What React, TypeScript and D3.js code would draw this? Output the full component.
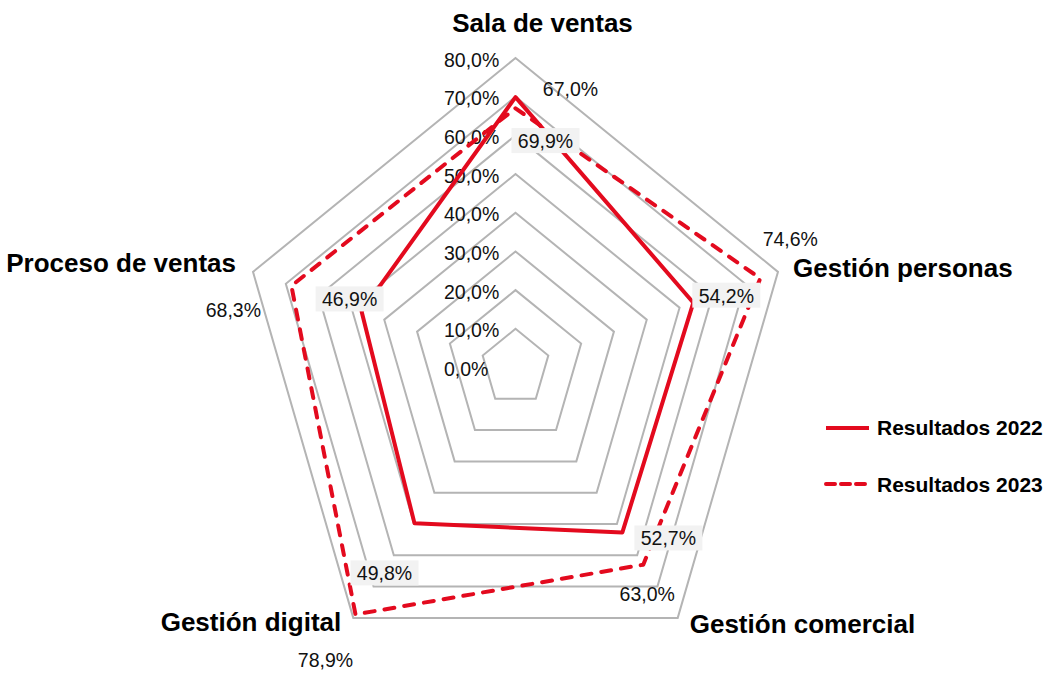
import * as d3 from "d3";
import React from "react";

// categories and series values (fractions)
const categories = ["Sala de ventas", "Gestión personas", "Gestión comercial", "Gestión digital", "Proceso de ventas"];
const values2022 = [0.699, 0.542, 0.527, 0.498, 0.469];
const values2023 = [0.67, 0.746, 0.63, 0.789, 0.683];
const seriesNames = ["Resultados 2022", "Resultados 2023"];
const ticks = [0, 0.1, 0.2, 0.3, 0.4, 0.5, 0.6, 0.7, 0.8];

const RED = "#e30a1e";
const GRID = "#b4b4b4";
const FONT = "'Liberation Sans', Arial, sans-serif";

// label nudges (center x / baseline), relative to each point
const off2022 = [[30, 51], [33, 0], [46, 13], [-30, 57], [-12, -5]];
const off2023 = [[55, -12], [30, -32], [4, 36], [-30, 53], [-58, 31]];
// category title nudges relative to outer vertex
const catOff: [number, number, string][] = [
  [27, -26, "middle"],
  [15, 5, "start"],
  [12, 15, "start"],
  [-12, 13, "end"],
  [-17, 0, "end"],
];

const fmt = (v: number) => d3.format(".1%")(v).replace(".", ",");

export default function App() {
  const width = 1052, height = 673;
  const cx = 515.5, cy = 367.5;

  // the picture is stretched vertically, so two radial scales
  const rx = d3.scaleLinear().domain([0, 0.8]).range([0, 276]);
  const ry = d3.scaleLinear().domain([0, 0.8]).range([0, 309.5]);
  const angle = d3.scaleLinear().domain([0, categories.length]).range([0, 2 * Math.PI]);

  const pt = (i: number, v: number): [number, number] => {
    const a = angle(i);
    return [cx + rx(v) * Math.sin(a), cy - ry(v) * Math.cos(a)];
  };

  const line = d3.line().curve(d3.curveLinearClosed);
  const ring = (v: number) => line(categories.map((_, i) => pt(i, v))) as string;
  const series = (vals: number[]) => line(vals.map((v, i) => pt(i, v))) as string;

  return (
    <svg width={width} height={height} style={{ position: "absolute", left: 0, top: 0, background: "#fff" }}>
      <g fill="none" stroke={GRID} strokeWidth={2}>
        {ticks.slice(1).map((t) => (
          <path key={t} d={ring(t)} />
        ))}
      </g>

      <g fontFamily={FONT} fontSize={19.5} fill="#111">
        {ticks.map((t) => (
          <text key={t} x={cx - 71.5} y={pt(0, t)[1] + 8.5}>
            {fmt(t)}
          </text>
        ))}
      </g>

      <path d={series(values2023)} fill="none" stroke={RED} strokeWidth={4} strokeDasharray="10 10" strokeLinecap="round" strokeLinejoin="round" />
      <path d={series(values2022)} fill="none" stroke={RED} strokeWidth={4} strokeLinejoin="round" />

      <g fontFamily={FONT} fontSize={19.5} fill="#111" textAnchor="middle">
        {values2022.map((v, i) => {
          const [x, y] = pt(i, v);
          const lx = x + off2022[i][0], ly = y + off2022[i][1];
          return (
            <g key={"a" + i}>
              <rect x={lx - 34} y={ly - 20} width={68} height={25} fill="#f2f2f2" />
              <text x={lx} y={ly}>{fmt(v)}</text>
            </g>
          );
        })}
        {values2023.map((v, i) => {
          const [x, y] = pt(i, v);
          return (
            <text key={"b" + i} x={x + off2023[i][0]} y={y + off2023[i][1]}>
              {fmt(v)}
            </text>
          );
        })}
      </g>

      <g fontFamily={FONT} fontSize={26} fontWeight="bold" fill="#000">
        {categories.map((c, i) => {
          const [x, y] = pt(i, 0.8);
          const [dx, dy, anchor] = catOff[i];
          return (
            <text key={c} x={x + dx} y={y + dy} textAnchor={anchor as any}>
              {c}
            </text>
          );
        })}
      </g>

      <g fontFamily={FONT} fontSize={21} fontWeight="bold" fill="#000">
        <line x1={826} x2={869} y1={428} y2={428} stroke={RED} strokeWidth={4} />
        <text x={877} y={435}>{seriesNames[0]}</text>
        <line x1={826} x2={869} y1={484} y2={484} stroke={RED} strokeWidth={4} strokeDasharray="9 6" strokeLinecap="round" />
        <text x={877} y={492}>{seriesNames[1]}</text>
      </g>
    </svg>
  );
}
